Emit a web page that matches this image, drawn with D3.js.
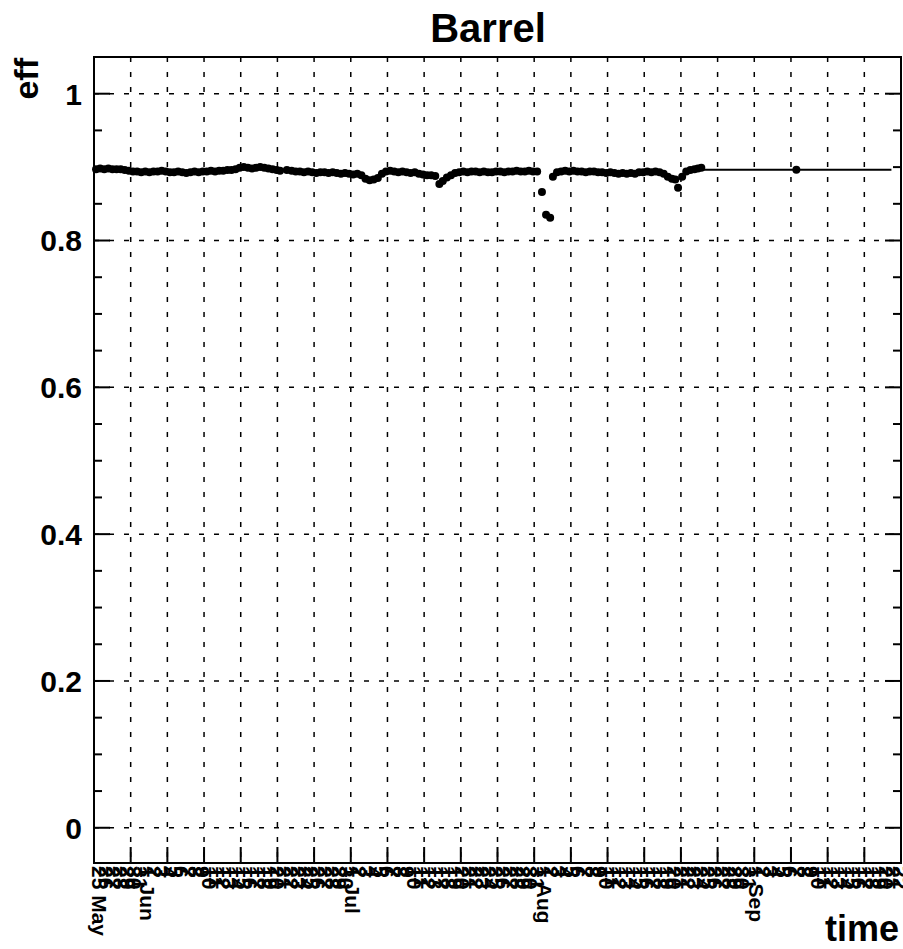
<!DOCTYPE html>
<html><head><meta charset="utf-8">
<script src="https://cdn.jsdelivr.net/npm/d3@7"></script>
<style>
body{margin:0;background:#fff}
svg{display:block}
text{font-family:"Liberation Sans",Arial,Helvetica,sans-serif;font-weight:bold;fill:#000}
</style>
</head><body>
<svg id="chart" width="903" height="949"></svg>
<script>
// ---------- data ----------
const chartTitle = "Barrel";
const yTitle = "eff";
const xTitle = "time";

// one label per day bin (alphanumeric x axis)
const dayLabels = [
  "25 May","26","27","28","29","30","31",
  "1 Jun","2","3","4","5","6","7","8","9","10","11","12","13","14","15","16","17","18","19","20","21","22","23","24","25","26","27","28","29","30",
  "1 Jul","2","3","4","5","6","7","8","9","10","11","12","13","17","18","19","20","21","22","23","24","25","26","27","28","29","30","31",
  "1 Aug","2","3","4","5","6","7","8","9","10","11","12","13","14","15","16","17","18","19","20","21","22","23","24","25","26","27","28","29","30","31",
  "1 Sep","2","3","4","5","6","7","8","9","10","11","12","13","14","15","16","17","18","19","20","21","22"
];

// run positions (in day-bin units) and efficiencies
const runPos = [
  0.3,0.9,1.5,2.1,2.7,3.3,3.9,4.5,5.1,5.7,
  6.3,6.9,7.5,8.1,8.7,9.3,9.9,10.5,11.1,11.7,
  12.3,12.9,13.5,14.1,14.7,15.3,15.9,16.5,17.1,17.7,
  18.3,18.9,19.5,20.1,20.7,21.3,21.9,22.5,23.1,23.7,
  24.3,24.9,25.5,26.1,26.7,27.2,28.2,28.9,29.5,30.1,
  30.7,31.3,31.9,32.5,33.1,33.7,34.3,34.9,35.5,36.1,
  36.7,37.3,37.9,38.5,39.1,39.7,40.3,40.9,41.5,42.1,
  42.7,43.3,43.9,44.5,45.1,45.7,46.3,46.9,47.5,48.1,
  48.7,49.3,49.9,50.5,51.0,51.6,52.2,52.8,53.4,54.0,
  54.6,55.2,55.8,56.4,57.0,57.6,58.2,58.8,59.4,60.0,
  60.6,61.2,61.8,62.4,63.0,63.6,64.2,64.8,65.5,66.1,
  66.7,67.1,67.7,68.3,68.9,69.5,70.1,70.7,71.3,71.9,
  72.5,73.1,73.7,74.3,74.9,75.5,76.1,76.7,77.3,77.9,
  78.5,79.1,79.7,80.3,80.9,81.5,82.1,82.7,83.3,83.9,
  84.5,85.0,85.4,86.0,86.6,87.2,87.8,88.3,88.8
];
const runEff = [
  .897,.898,.897,.898,.897,.897,.897,.896,.895,.894,
  .894,.893,.894,.893,.894,.894,.895,.894,.893,.893,
  .894,.893,.892,.893,.894,.893,.894,.894,.895,.894,
  .895,.895,.896,.896,.897,.899,.900,.899,.898,.899,
  .900,.899,.898,.897,.896,.895,.896,.895,.894,.894,
  .893,.894,.893,.892,.893,.893,.892,.893,.892,.891,
  .892,.891,.890,.891,.889,.884,.882,.883,.885,.891,
  .894,.895,.894,.893,.894,.893,.892,.893,.891,.890,
  .889,.889,.888,.877,.881,.886,.889,.892,.893,.894,
  .893,.894,.894,.893,.894,.893,.893,.894,.894,.893,
  .894,.894,.895,.894,.894,.895,.894,.894,.866,.835,
  .831,.887,.893,.894,.895,.894,.895,.894,.894,.893,
  .894,.894,.893,.893,.892,.893,.892,.891,.892,.891,
  .892,.891,.893,.893,.894,.893,.894,.893,.891,.887,
  .884,.883,.872,.887,.894,.896,.897,.898,.899
];

// summary point with a wide time span (x error)
const sumPos = [102.7];
const sumEff = [0.8965];
const sumErr = [13.9];

const yTickValues = [0, 0.2, 0.4, 0.6, 0.8, 1];
const yTickLabels = ["0", "0.2", "0.4", "0.6", "0.8", "1"];
const yMinorStep = 0.05;
const xDivisions = 22;

// ---------- drawing ----------
const svg = d3.select("#chart");
const F = {left: 94, right: 901, top: 57, bottom: 863};

const x = d3.scaleLinear().domain([0, dayLabels.length]).range([F.left, F.right]);
const y = d3.scaleLinear().domain([-0.048, 1.05]).range([F.bottom, F.top]);

// grid
const xGrid = d3.range(1, xDivisions).map(i => dayLabels.length * i / xDivisions);
svg.append("g").selectAll("line").data(xGrid).join("line")
  .attr("x1", d => x(d)).attr("x2", d => x(d))
  .attr("y1", F.top).attr("y2", F.bottom)
  .attr("stroke", "#000").attr("stroke-width", 1.5).attr("stroke-dasharray", "5,10");
svg.append("g").selectAll("line").data(yTickValues).join("line")
  .attr("x1", F.left).attr("x2", F.right)
  .attr("y1", d => y(d)).attr("y2", d => y(d))
  .attr("stroke", "#000").attr("stroke-width", 1.5).attr("stroke-dasharray", "5,10");

// data: error bar of summary point
const sumData = sumPos.map((p, i) => ({p, e: sumEff[i], err: sumErr[i]}));
svg.append("g").selectAll("line").data(sumData).join("line")
  .attr("x1", d => x(d.p - d.err)).attr("x2", d => x(d.p + d.err))
  .attr("y1", d => y(d.e)).attr("y2", d => y(d.e))
  .attr("stroke", "#000").attr("stroke-width", 2);

const runData = runPos.map((p, i) => ({p, e: runEff[i]})).concat(sumData);
svg.append("g").selectAll("circle").data(runData).join("circle")
  .attr("cx", d => x(d.p)).attr("cy", d => y(d.e)).attr("r", 4)
  .attr("fill", "#000");

// frame
svg.append("rect").attr("x", F.left).attr("y", F.top)
  .attr("width", F.right - F.left).attr("height", F.bottom - F.top)
  .attr("fill", "none").attr("stroke", "#000").attr("stroke-width", 2);

// y ticks (left and right)
const [y0, y1] = y.domain();
const yMinor = d3.range(Math.ceil(y0 / yMinorStep), Math.floor(y1 / yMinorStep) + 1).map(k => +(k * yMinorStep).toFixed(3))
  .filter(v => !yTickValues.some(t => Math.abs(t - v) < 1e-6));
const tickG = svg.append("g").attr("stroke", "#000").attr("stroke-width", 2);
yTickValues.forEach(v => {
  tickG.append("line").attr("x1", F.left).attr("x2", F.left + 16).attr("y1", y(v)).attr("y2", y(v));
  tickG.append("line").attr("x1", F.right).attr("x2", F.right - 16).attr("y1", y(v)).attr("y2", y(v));
});
yMinor.forEach(v => {
  tickG.append("line").attr("x1", F.left).attr("x2", F.left + 8).attr("y1", y(v)).attr("y2", y(v));
  tickG.append("line").attr("x1", F.right).attr("x2", F.right - 8).attr("y1", y(v)).attr("y2", y(v));
});
// x ticks at divisions
xGrid.forEach(v => {
  tickG.append("line").attr("x1", x(v)).attr("x2", x(v)).attr("y1", F.bottom).attr("y2", F.bottom - 16);
});

// y tick labels
svg.append("g").selectAll("text").data(yTickValues).join("text")
  .attr("x", 82).attr("y", d => y(d)).attr("dy", "0.36em")
  .attr("text-anchor", "end").attr("font-size", 30)
  .text((d, i) => yTickLabels[i]);

// x labels, vertical, one per day bin
svg.append("g").selectAll("text").data(dayLabels).join("text")
  .attr("transform", (d, i) => `translate(${x(i + 0.5) - 5},866) rotate(90)`)
  .attr("text-anchor", "start").attr("font-size", 21)
  .text(d => d);

// titles
svg.append("text").attr("x", 488).attr("y", 42).attr("text-anchor", "middle")
  .attr("font-size", 40).text(chartTitle);
svg.append("text").attr("transform", "translate(38,58) rotate(-90)")
  .attr("text-anchor", "end").attr("font-size", 34).text(yTitle);
svg.append("text").attr("x", 899).attr("y", 941).attr("text-anchor", "end")
  .attr("font-size", 36).text(xTitle);
</script>
</body></html>
